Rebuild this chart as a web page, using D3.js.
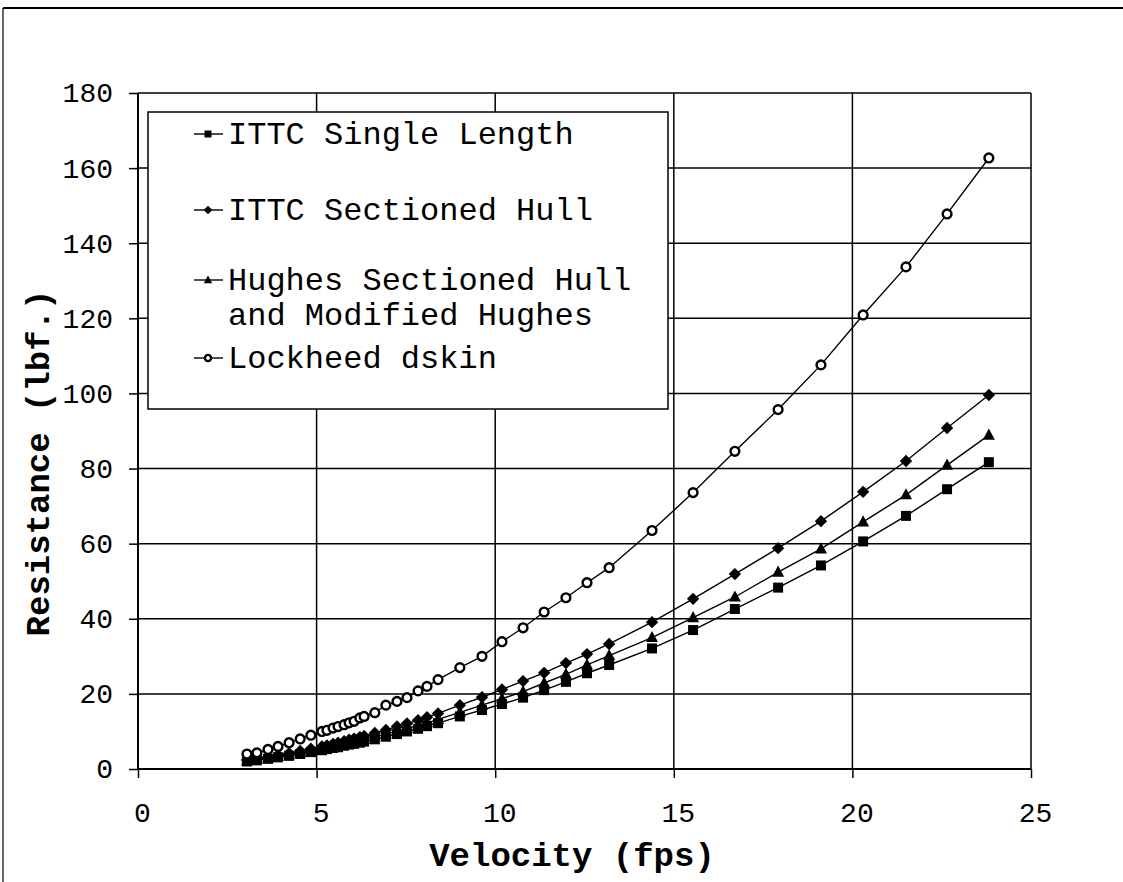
<!DOCTYPE html>
<html>
<head>
<meta charset="utf-8">
<script src="https://cdn.jsdelivr.net/npm/d3@7"></script>
<style>
  html, body { margin: 0; padding: 0; background: #fff; }
  svg { display: block; }
  text { font-family: "Courier New", "Liberation Mono", monospace; fill: #000; }
</style>
</head>
<body>
<svg id="chart" width="1123" height="882"></svg>
<script>
const velocity = [3.05,3.33,3.64,3.92,4.23,4.54,4.84,5.15,5.29,5.46,5.60,5.77,5.91,6.05,6.21,6.33,6.63,6.94,7.25,7.53,7.84,8.09,8.40,9.01,9.63,10.19,10.78,11.37,11.98,12.57,13.19,14.39,15.54,16.71,17.92,19.12,20.30,21.50,22.65,23.82];

const ittcSingle = [2.0,2.3,2.7,3.1,3.5,4.0,4.5,5.0,5.3,5.6,5.8,6.2,6.5,6.7,7.0,7.3,7.9,8.6,9.3,10.0,10.7,11.4,12.2,14.0,15.7,17.3,19.0,21.0,23.2,25.5,27.7,32.1,37.0,42.6,48.3,54.2,60.6,67.4,74.5,81.7];
const ittcSectioned = [2.4,2.8,3.2,3.7,4.2,4.8,5.4,6.0,6.3,6.7,7.0,7.4,7.8,8.1,8.5,8.8,9.6,10.4,11.3,12.1,13.0,13.8,14.8,17.0,19.1,21.2,23.4,25.6,28.2,30.6,33.3,39.1,45.3,51.9,58.8,66.0,73.8,82.0,90.8,99.6];
const hughes = [2.2,2.5,2.9,3.3,3.8,4.3,4.8,5.4,5.7,6.0,6.3,6.7,7.0,7.3,7.6,7.9,8.6,9.3,10.1,10.8,11.6,12.3,13.2,15.1,17.0,18.7,20.6,22.9,25.2,27.7,30.2,35.0,40.3,45.8,52.4,58.6,65.8,73.0,80.9,88.9];
const lockheed = [4.0,4.3,5.2,6.0,7.0,8.0,9.0,10.0,10.3,10.9,11.3,11.8,12.3,12.7,13.6,14.0,15.0,17.0,18.0,19.0,20.8,22.0,23.8,27.0,30.0,33.9,37.6,41.8,45.6,49.6,53.6,63.5,73.6,84.6,95.7,107.6,120.9,133.7,147.8,162.7];

const seriesNames = ["ITTC Single Length", "ITTC Sectioned Hull", "Hughes Sectioned Hull|and Modified Hughes", "Lockheed dskin"];
const seriesMarkers = ["square", "diamond", "triangle", "circle"];
const xTicks = [0,5,10,15,20,25];
const yTicks = [0,20,40,60,80,100,120,140,160,180];
const xTitle = "Velocity (fps)";
const yTitle = "Resistance (lbf.)";

const seriesValues = [ittcSingle, ittcSectioned, hughes, lockheed];

const svg = d3.select("#chart");
const L = 138, R = 1031, T = 93, B = 769;
const x = d3.scaleLinear().domain([0,25]).range([L,R]);
const y = d3.scaleLinear().domain([0,180]).range([B,T]);

// outer frame
svg.append("line").attr("x1",3).attr("x2",1123).attr("y1",8).attr("y2",8).attr("stroke","#000").attr("stroke-width",2);
svg.append("line").attr("x1",3).attr("x2",3).attr("y1",8).attr("y2",882).attr("stroke","#000").attr("stroke-width",1.2);

// gridlines
const g = svg.append("g");
g.selectAll(".hg").data(yTicks.filter(d=>d>0)).enter().append("line")
  .attr("x1",L).attr("x2",R).attr("y1",d=>y(d)).attr("y2",d=>y(d))
  .attr("stroke","#000").attr("stroke-width",1.5);
g.selectAll(".vg").data(xTicks.filter(d=>d>0)).enter().append("line")
  .attr("y1",T).attr("y2",B).attr("x1",d=>x(d)).attr("x2",d=>x(d))
  .attr("stroke","#000").attr("stroke-width",1.5);

// axes
const xAxis = d3.axisBottom(x).tickValues(xTicks).tickSize(9).tickPadding(24).tickFormat(d3.format("d"));
const yAxis = d3.axisLeft(y).tickValues(yTicks).tickSize(9).tickPadding(16).tickFormat(d3.format("d"));
const gx = svg.append("g").attr("transform",`translate(0,${B})`).call(xAxis);
const gy = svg.append("g").attr("transform",`translate(${L},0)`).call(yAxis);
[gx,gy].forEach(a=>{
  a.select(".domain").attr("stroke","#000").attr("stroke-width",2);
  a.selectAll(".tick line").attr("stroke","#000").attr("stroke-width",1.5);
  a.selectAll(".tick text").style("font-family",'"Courier New","Liberation Mono",monospace').style("font-size","28px").attr("fill","#000");
});
gx.selectAll(".tick text").attr("dx","4");
gx.select(".domain").attr("d",`M${L},0H${R}`);
gy.select(".domain").attr("d",`M0,${B}V${T}`);

// titles
svg.append("text").attr("x",572).attr("y",866).attr("text-anchor","middle")
  .style("font-size","34px").style("font-weight","bold").text(xTitle);
svg.append("text").attr("transform",`translate(49,463) rotate(-90)`).attr("text-anchor","middle")
  .style("font-size","34px").style("font-weight","bold").text(yTitle);

// lines and markers
const line = d3.line().x((d,i)=>x(velocity[i])).y(d=>y(d));
function drawMarker(sel, type, size) {
  if (type === "square") {
    sel.append("rect").attr("x",-size/2).attr("y",-size/2).attr("width",size).attr("height",size).attr("fill","#000");
  } else if (type === "diamond") {
    const s = size*0.62;
    sel.append("path").attr("d",`M0,${-s}L${s},0L0,${s}L${-s},0Z`).attr("fill","#000");
  } else if (type === "triangle") {
    const s = size*0.6;
    sel.append("path").attr("d",`M0,${-s*1.1}L${s},${s*0.75}L${-s},${s*0.75}Z`).attr("fill","#000");
  } else {
    sel.append("circle").attr("r",size*0.44).attr("fill","#fff").attr("stroke","#000").attr("stroke-width",2.4);
  }
}
seriesValues.forEach((vals, si) => {
  svg.append("path").datum(vals).attr("d",line).attr("fill","none").attr("stroke","#000").attr("stroke-width",1.4);
});
seriesValues.forEach((vals, si) => {
  const pts = svg.append("g").selectAll("g").data(vals).enter().append("g")
    .attr("transform",(d,i)=>`translate(${x(velocity[i])},${y(d)})`);
  pts.each(function(){ drawMarker(d3.select(this), seriesMarkers[si], 10); });
});

// legend
const lg = svg.append("g");
lg.append("rect").attr("x",148).attr("y",112).attr("width",520).attr("height",297)
  .attr("fill","#fff").attr("stroke","#000").attr("stroke-width",1.5);
const rowY = [[144],[220],[290,325],[368]];
seriesNames.forEach((name, si) => {
  const lines = name.split("|");
  const cy = rowY[si][0] - 10;
  lg.append("line").attr("x1",194).attr("x2",223).attr("y1",cy).attr("y2",cy).attr("stroke","#000").attr("stroke-width",1.4);
  const m = lg.append("g").attr("transform",`translate(208,${cy})`);
  drawMarker(m, seriesMarkers[si], 7);
  lines.forEach((t, li) => {
    lg.append("text").attr("x",228).attr("y",rowY[si][li]).style("font-size","32px").attr("xml:space","preserve").text(t);
  });
});
</script>
</body>
</html>
